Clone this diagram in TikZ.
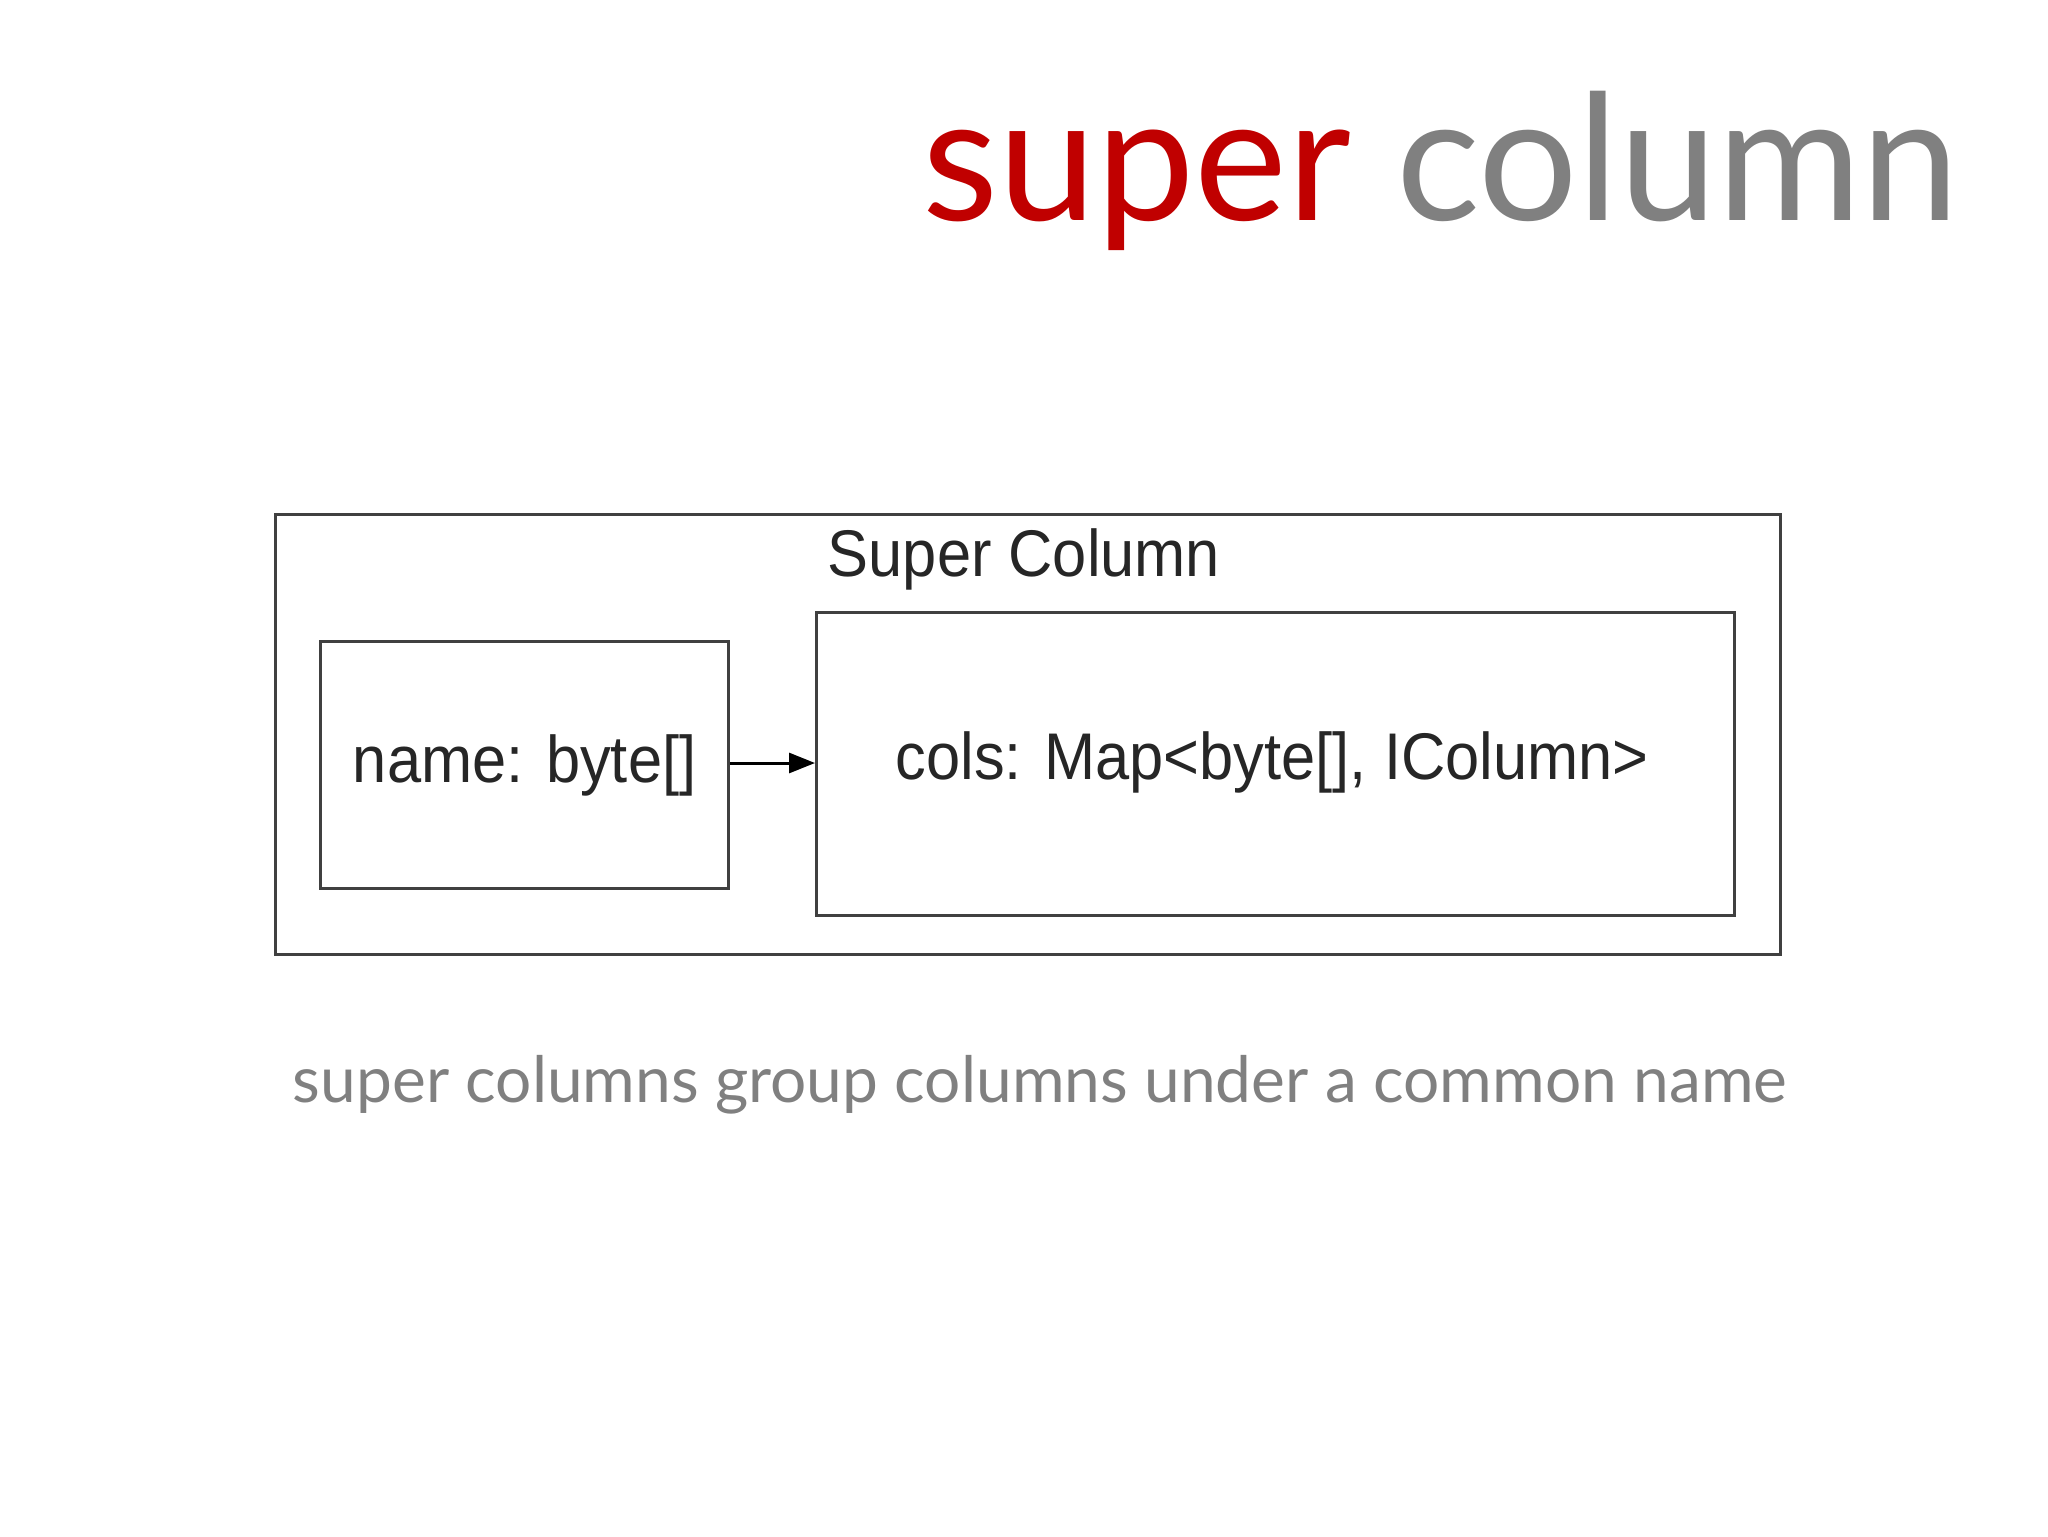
\documentclass[tikz,border=0pt]{standalone}
\usepackage{fontspec}
\setmainfont{Lato}
\newfontfamily\diafont{Liberation Sans}
\usetikzlibrary{arrows.meta}
\definecolor{titlered}{HTML}{C00000}
\definecolor{titlegray}{HTML}{808080}
\definecolor{boxline}{HTML}{404040}
\definecolor{diatext}{HTML}{262626}
\tikzset{
  box/.style={draw=boxline, line width=1.6pt, inner sep=0pt},
  diatxt/.style={font=\diafont\fontsize{33}{38}\selectfont, text=diatext, xscale=0.93, inner sep=0pt},
  conn/.style={line width=1.5pt, draw=black, -{Triangle[length=13pt,width=10pt]}}
}
\begin{document}
\begin{tikzpicture}[x=0.5pt,y=-0.5pt]
\useasboundingbox (0,0) rectangle (2048,1536);
% title
\node[anchor=base east, inner sep=0pt, font=\fontsize{87.8}{100}\selectfont] (title) at (1960,220)
  {\textcolor{titlered}{super} \textcolor{titlegray}{column}};
% outer box
\node[box, minimum width=1505*0.5pt, minimum height=440*0.5pt, anchor=north west] (outer) at (274,513) {};
\node[diatxt] (outerlabel) at (1024,559) {Super Column};
% inner boxes
\node[box, minimum width=408*0.5pt, minimum height=247*0.5pt, anchor=north west] (namebox) at (319,640) {};
\node[diatxt] (nametext) at (namebox.center) {name: byte[]};
\node[box, minimum width=918*0.5pt, minimum height=303*0.5pt, anchor=north west] (colsbox) at (815,611) {};
\node[diatxt] (colstext) at (1272,762) {cols: Map<byte[], IColumn>};
% connector
\draw[conn] (namebox.east |- 0,763) -- (colsbox.west |- 0,763);
% caption
\node[anchor=base, inner sep=0pt, text=titlegray, font=\fontsize{32}{38}\selectfont] (caption) at (1040,1102)
  {super columns group columns under a common name};
\end{tikzpicture}
\end{document}
